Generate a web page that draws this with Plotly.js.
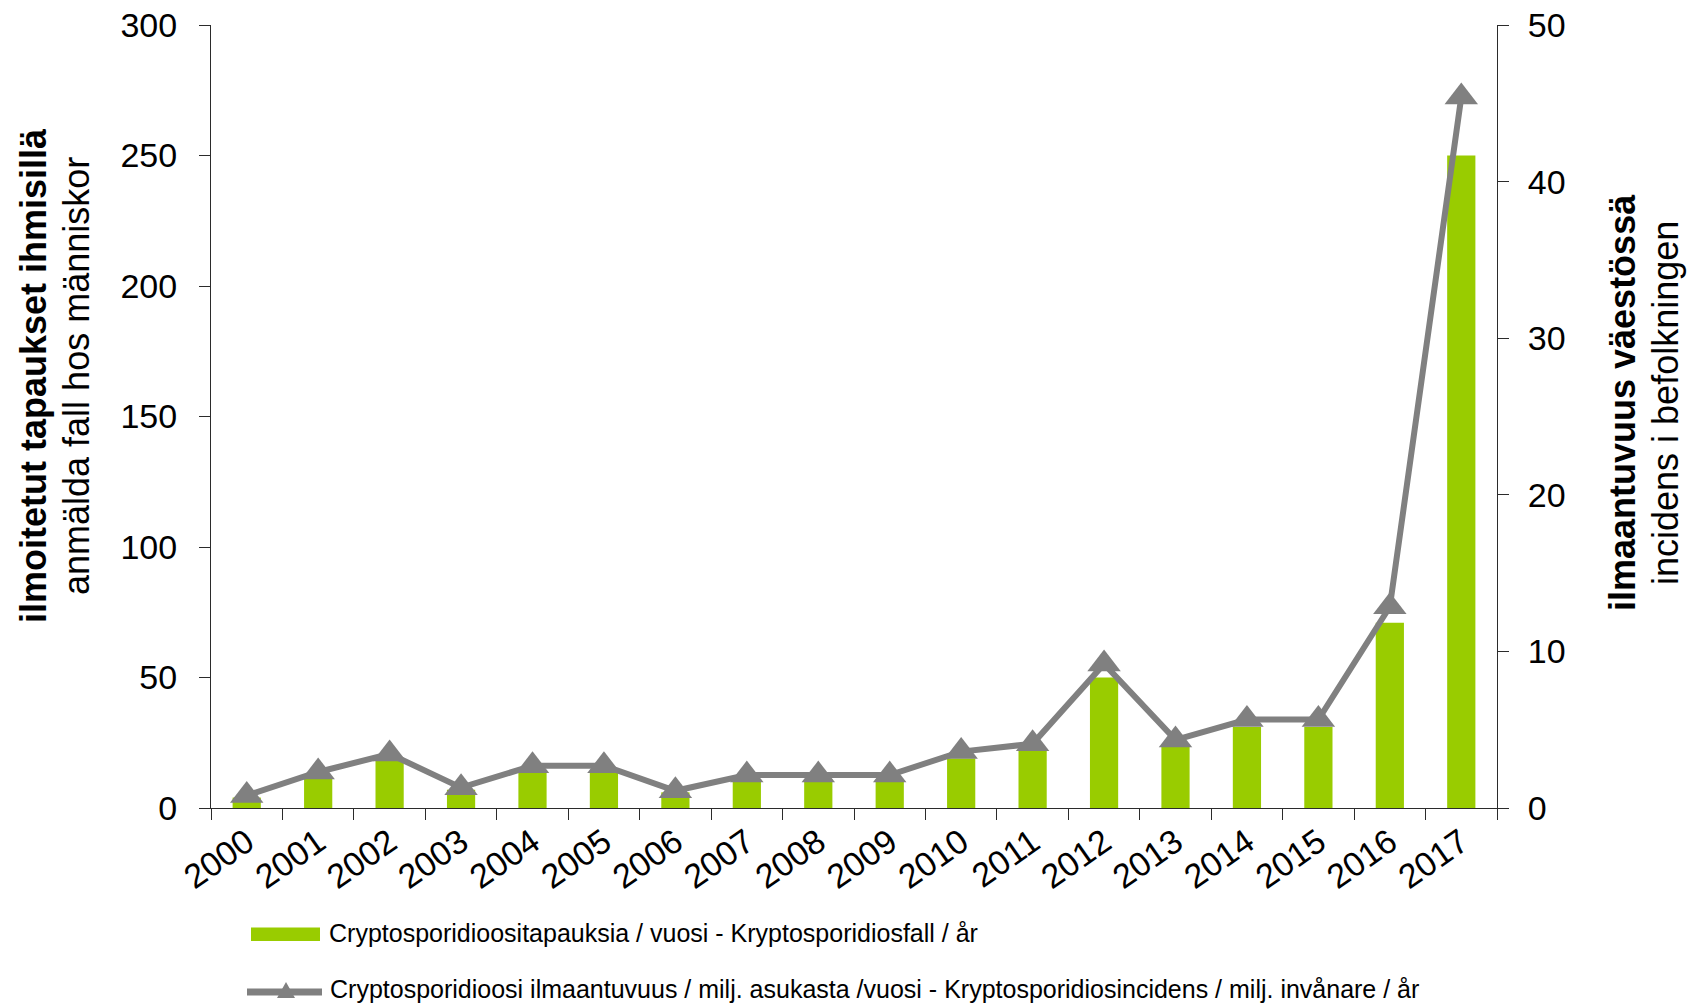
<!DOCTYPE html>
<html>
<head>
<meta charset="utf-8">
<script src="https://cdn.plot.ly/plotly-3.0.1.min.js"></script>
<style>html,body{margin:0;padding:0;background:#fff;}#chart{width:1689px;height:1006px;}</style>
</head>
<body>
<div id="chart"></div>
<script>
// ---- data ----
const years = ['2000','2001','2002','2003','2004','2005','2006','2007','2008','2009','2010','2011','2012','2013','2014','2015','2016','2017'];
const cases = [4, 12, 18, 7, 14, 14, 6, 11, 11, 11, 19, 22, 50, 24, 31, 31, 71, 250];
const incidence = [0.8, 2.3, 3.45, 1.3, 2.7, 2.7, 1.1, 2.1, 2.1, 2.1, 3.6, 4.1, 9.2, 4.35, 5.65, 5.65, 12.85, 45.4];
const leftTicks = [0, 50, 100, 150, 200, 250, 300];
const rightTicks = [0, 10, 20, 30, 40, 50];
const barName = 'Cryptosporidioositapauksia / vuosi - Kryptosporidiosfall / år';
const lineName = 'Cryptosporidioosi ilmaantuvuus / milj. asukasta /vuosi - Kryptosporidiosincidens / milj. invånare / år';
const leftTitleBold = 'ilmoitetut tapaukset ihmisillä';
const leftTitle = 'anmälda fall hos människor';
const rightTitleBold = 'ilmaantuvuus väestössä';
const rightTitle = 'incidens i befolkningen';

// ---- layout helpers ----
const W = 1689, H = 1006;
const M = {l: 211, r: 192, t: 25, b: 198};
const PW = W - M.l - M.r, PH = H - M.t - M.b;
const px = v => (v - M.l) / PW;
const py = v => (H - M.b - v) / PH;
const FONT = 'Liberation Sans, Arial, Helvetica, sans-serif';
const GREEN = '#99CC00', GREY = '#808080', AX = '#2b2b2b';
const boundaries = years.map((_, i) => i - 0.5).concat([years.length - 0.5]);

const traces = [
  {type: 'bar', x: years, y: cases, name: barName, marker: {color: GREEN}, showlegend: false, hoverinfo: 'x+y'},
  {type: 'scatter', mode: 'lines+markers', x: years, y: incidence, yaxis: 'y2', name: lineName, showlegend: false,
   line: {color: GREY, width: 6}, marker: {symbol: 'triangle-up', size: 29, color: GREY}}
];

const tickFont = {family: FONT, size: 34, color: '#000'};
const layout = {
  width: W, height: H,
  margin: M,
  paper_bgcolor: '#fff', plot_bgcolor: 'rgba(0,0,0,0)',
  bargap: 0.605,
  showlegend: false,
  font: {family: FONT, color: '#000'},
  xaxis: {type: 'category', categoryarray: years, range: [-0.5, years.length - 0.5], tickson: 'boundaries',
          ticks: 'outside', ticklen: 11, tickcolor: AX, tickwidth: 1, showline: true, linecolor: AX, linewidth: 1,
          tickangle: -35, tickfont: {family: FONT, size: 34, color: '#000'}, showgrid: false, zeroline: false},
  xaxis2: {overlaying: 'x', anchor: 'y', side: 'bottom', type: 'linear', range: [-0.5, years.length - 0.5],
           tickmode: 'array', tickvals: boundaries, ticks: 'inside', ticklen: 11, tickcolor: AX, tickwidth: 1,
           showticklabels: false, showline: false, showgrid: false, zeroline: false},
  yaxis: {range: [0, 300], tickmode: 'array', tickvals: leftTicks, ticks: 'outside', ticklen: 11, tickcolor: AX,
          showline: true, linecolor: AX, linewidth: 1, tickfont: tickFont, showgrid: false, zeroline: false,
          ticklabelstandoff: 15},
  yaxis3: {overlaying: 'y', anchor: 'x', side: 'left', range: [0, 300], tickmode: 'array', tickvals: leftTicks,
           ticks: 'inside', ticklen: 11, tickcolor: AX, showticklabels: false, showline: false, showgrid: false, zeroline: false},
  yaxis2: {overlaying: 'y', anchor: 'x', side: 'right', range: [0, 50], tickmode: 'array', tickvals: rightTicks,
           ticks: 'outside', ticklen: 11, tickcolor: AX, showline: true, linecolor: AX, linewidth: 1,
           tickfont: tickFont, showgrid: false, zeroline: false, ticklabelstandoff: 12},
  yaxis4: {overlaying: 'y', anchor: 'x', side: 'right', range: [0, 50], tickmode: 'array', tickvals: rightTicks,
           ticks: 'inside', ticklen: 11, tickcolor: AX, showticklabels: false, showline: false, showgrid: false, zeroline: false},
  shapes: [
    {type: 'rect', xref: 'paper', yref: 'paper', x0: px(251), x1: px(320), y0: py(941), y1: py(927.5),
     fillcolor: GREEN, line: {width: 0}},
    {type: 'line', xref: 'paper', yref: 'paper', x0: px(247), x1: px(322), y0: py(992), y1: py(992),
     line: {color: GREY, width: 7}},
    {type: 'path', xref: 'paper', yref: 'paper',
     path: `M ${px(277)} ${py(998)} L ${px(295)} ${py(998)} L ${px(286)} ${py(982)} Z`,
     fillcolor: GREY, line: {width: 0}}
  ],
  annotations: [
    {xref: 'paper', yref: 'paper', x: px(327), y: py(933), xanchor: 'left', yanchor: 'middle', showarrow: false,
     text: barName, font: {family: FONT, size: 25, color: '#000'}},
    {xref: 'paper', yref: 'paper', x: px(328), y: py(989), xanchor: 'left', yanchor: 'middle', showarrow: false,
     text: lineName, font: {family: FONT, size: 25, color: '#000'}},
    {xref: 'paper', yref: 'paper', x: px(33), y: py(376), xanchor: 'center', yanchor: 'middle', showarrow: false,
     textangle: -90, text: '<b>' + leftTitleBold + '</b>', font: {family: FONT, size: 36, color: '#000'}},
    {xref: 'paper', yref: 'paper', x: px(76), y: py(376), xanchor: 'center', yanchor: 'middle', showarrow: false,
     textangle: -90, text: leftTitle, font: {family: FONT, size: 36, color: '#000'}},
    {xref: 'paper', yref: 'paper', x: px(1622), y: py(403), xanchor: 'center', yanchor: 'middle', showarrow: false,
     textangle: -90, text: '<b>' + rightTitleBold + '</b>', font: {family: FONT, size: 36, color: '#000'}},
    {xref: 'paper', yref: 'paper', x: px(1665), y: py(403), xanchor: 'center', yanchor: 'middle', showarrow: false,
     textangle: -90, text: rightTitle, font: {family: FONT, size: 36, color: '#000'}}
  ]
};

Plotly.newPlot('chart', traces, layout, {displayModeBar: false, staticPlot: true});
</script>
</body>
</html>
